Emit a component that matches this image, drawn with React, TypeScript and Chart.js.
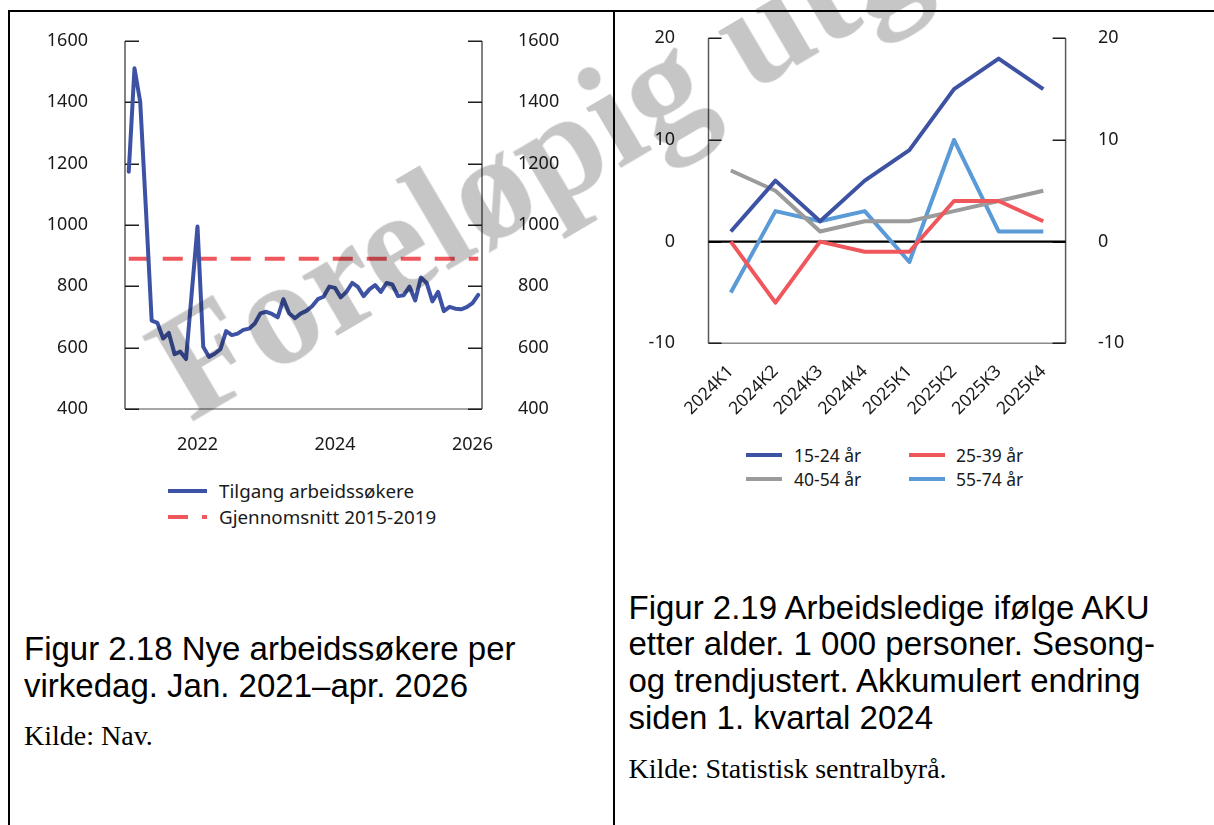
import React, { useEffect, useRef } from "react";
import { Chart, registerables } from "chart.js";

Chart.register(...registerables);

// ---------- Data: Figur 2.18 ----------
const START_YEAR = 2021;
const arbeidssokere = [
  1174, 1511, 1402, 1050, 688, 681, 630, 648, 579, 587, 563, 780,
  995, 603, 570, 580, 595, 654, 641, 646, 658, 662, 679, 712,
  717, 710, 699, 758, 712, 696, 711, 720, 735, 758, 766, 799,
  795, 764, 782, 811, 798, 768, 790, 804, 782, 811, 806, 768,
  771, 799, 754, 829, 811, 751, 782, 719, 733, 727, 725, 732,
  745, 772,
];
const gjennomsnitt = 890;
const leftXTicks = [2022, 2024, 2026];
const leftYMin = 400;
const leftYMax = 1600;
const leftYStep = 200;

// ---------- Data: Figur 2.19 ----------
const kvartaler = ["2024K1", "2024K2", "2024K3", "2024K4", "2025K1", "2025K2", "2025K3", "2025K4"];
const alder1524 = [1, 6, 2, 6, 9, 15, 18, 15];
const alder2539 = [0, -6, 0, -1, -1, 4, 4, 2];
const alder4054 = [7, 5, 1, 2, 2, 3, 4, 5];
const alder5574 = [-5, 3, 2, 3, -2, 10, 1, 1];
const rightYMin = -10;
const rightYMax = 20;
const rightYStep = 10;

// ---------- Styles ----------
const BLUE = "#3E52A4";
const RED = "#F0575C";
const GRAY = "#9B9B9B";
const LIGHTBLUE = "#5A9AD6";
const FONT = "'Noto Sans', 'Open Sans', sans-serif";
const TICK_FONT = { family: FONT, size: 18 };
const XROT_FONT = { family: FONT, size: 17.5 };
const TEXT_COLOR = "#1a1a1a";

const axisFrame = {
  id: "axisFrame",
  beforeDatasetsDraw(chart: any, _args: any, opts: any) {
    const { ctx, chartArea: a } = chart;
    const y = chart.scales.y;
    ctx.save();
    ctx.strokeStyle = "#8a8a8a";
    ctx.lineWidth = 1.5;
    ctx.beginPath();
    ctx.moveTo(a.left, a.bottom);
    ctx.lineTo(a.right, a.bottom);
    ctx.stroke();
    ctx.strokeStyle = "#5a5a5a";
    ctx.lineWidth = 1.5;
    ctx.beginPath();
    ctx.moveTo(a.left, a.top);
    ctx.lineTo(a.left, a.bottom);
    ctx.moveTo(a.right, a.top);
    ctx.lineTo(a.right, a.bottom);
    ctx.stroke();
    ctx.strokeStyle = "#1e1e1e";
    ctx.lineWidth = 1.5;
    ctx.beginPath();
    y.ticks.forEach((t: any) => {
      const py = Math.round(y.getPixelForValue(t.value)) + 0.25;
      ctx.moveTo(a.left, py);
      ctx.lineTo(a.left + opts.tickLen, py);
      ctx.moveTo(a.right, py);
      ctx.lineTo(a.right - opts.tickLen, py);
    });
    ctx.stroke();
    if (opts.zeroLine) {
      const pz = y.getPixelForValue(0);
      ctx.strokeStyle = "#000";
      ctx.lineWidth = 2.2;
      ctx.beginPath();
      ctx.moveTo(a.left, pz);
      ctx.lineTo(a.right, pz);
      ctx.stroke();
    }
    ctx.restore();
  },
};

const hiddenGrid = { display: false, drawTicks: false };
const plainNumber = (v: any) => String(v);

function fixWidth(w: number) {
  return (s: any) => {
    s.width = w;
    s.paddingTop = 0;
    s.paddingBottom = 0;
  };
}
function fixHeight(h: number) {
  return (s: any) => {
    s.height = h;
    s.paddingLeft = 0;
    s.paddingRight = 0;
  };
}

function leftConfig(): any {
  const n = arbeidssokere.length;
  return {
    type: "line",
    data: {
      datasets: [
        {
          label: "Tilgang arbeidssøkere",
          data: arbeidssokere.map((v, i) => ({ x: START_YEAR + i / 12, y: v })),
          borderColor: BLUE,
          borderWidth: 4,
          pointRadius: 0,
          tension: 0,
          borderJoinStyle: "round",
          borderCapStyle: "round",
        },
        {
          label: "Gjennomsnitt 2015-2019",
          data: [
            { x: START_YEAR, y: gjennomsnitt },
            { x: START_YEAR + (n - 1) / 12, y: gjennomsnitt },
          ],
          borderColor: RED,
          borderWidth: 4,
          borderDash: [20, 14],
          pointRadius: 0,
          tension: 0,
        },
      ],
    },
    options: {
      responsive: false,
      animation: false,
      events: [],
      layout: { padding: { top: 29, left: 0, right: 0, bottom: 0 } },
      plugins: {
        legend: { display: false },
        tooltip: { enabled: false },
        axisFrame: { tickLen: 14, zeroLine: false },
      },
      scales: {
        x: {
          type: "linear",
          min: START_YEAR - 0.0546,
          max: START_YEAR + 61.66 / 12,
          grid: hiddenGrid,
          border: { display: false },
          afterBuildTicks: (s: any) => {
            s.ticks = leftXTicks.map((v) => ({ value: v }));
          },
          afterFit: fixHeight(53),
          ticks: {
            autoSkip: false,
            maxRotation: 0,
            minRotation: 0,
            padding: 25,
            font: TICK_FONT,
            color: TEXT_COLOR,
            callback: plainNumber,
          },
        },
        y: {
          position: "left",
          min: leftYMin,
          max: leftYMax,
          grid: hiddenGrid,
          border: { display: false },
          afterFit: fixWidth(115),
          ticks: { stepSize: leftYStep, padding: 37, font: TICK_FONT, color: TEXT_COLOR, callback: plainNumber },
        },
        y2: {
          position: "right",
          min: leftYMin,
          max: leftYMax,
          grid: hiddenGrid,
          border: { display: false },
          afterFit: fixWidth(131),
          ticks: { stepSize: leftYStep, padding: 36, font: TICK_FONT, color: TEXT_COLOR, callback: plainNumber },
        },
      },
    },
    plugins: [axisFrame],
  };
}

function rightConfig(): any {
  const ds = (label: string, data: number[], color: string) => ({
    label,
    data,
    borderColor: color,
    borderWidth: 4,
    pointRadius: 0,
    tension: 0,
    borderJoinStyle: "round",
  });
  return {
    type: "line",
    data: {
      labels: kvartaler,
      datasets: [
        ds("15-24 år", alder1524, BLUE),
        ds("25-39 år", alder2539, RED),
        ds("40-54 år", alder4054, GRAY),
        ds("55-74 år", alder5574, LIGHTBLUE),
      ],
    },
    options: {
      responsive: false,
      animation: false,
      events: [],
      layout: { padding: { top: 26.3, left: 0, right: 0, bottom: 0 } },
      plugins: {
        legend: { display: false },
        tooltip: { enabled: false },
        axisFrame: { tickLen: 13, zeroLine: true },
      },
      scales: {
        x: {
          type: "category",
          offset: true,
          grid: hiddenGrid,
          border: { display: false },
          afterFit: fixHeight(98.7),
          ticks: {
            autoSkip: false,
            maxRotation: 45,
            minRotation: 45,
            padding: 18,
            font: XROT_FONT,
            color: TEXT_COLOR,
          },
        },
        y: {
          position: "left",
          min: rightYMin,
          max: rightYMax,
          grid: hiddenGrid,
          border: { display: false },
          afterFit: fixWidth(93.5),
          ticks: { stepSize: rightYStep, padding: 33.5, font: TICK_FONT, color: TEXT_COLOR, callback: plainNumber },
        },
        y2: {
          position: "right",
          min: rightYMin,
          max: rightYMax,
          grid: hiddenGrid,
          border: { display: false },
          afterFit: fixWidth(148.4),
          ticks: { stepSize: rightYStep, padding: 32.4, font: TICK_FONT, color: TEXT_COLOR, callback: plainNumber },
        },
      },
    },
    plugins: [axisFrame],
  };
}

function ChartCanvas(props: { build: () => any; left: number; top: number; width: number; height: number }) {
  const ref = useRef<HTMLCanvasElement | null>(null);
  useEffect(() => {
    if (!ref.current) return;
    const chart = new Chart(ref.current, props.build());
    return () => chart.destroy();
  }, []);
  return (
    <canvas
      ref={ref}
      width={props.width}
      height={props.height}
      style={{ position: "absolute", left: props.left, top: props.top, width: props.width, height: props.height }}
    />
  );
}

function LegendItem(props: {
  x: number;
  y: number;
  label: string;
  color: string;
  dashed?: boolean;
  sampleWidth: number;
  textX: number;
  fontSize: number;
}) {
  const { x, y, label, color, dashed, sampleWidth, textX, fontSize } = props;
  return (
    <>
      {dashed ? (
        <>
          <div style={{ position: "absolute", left: x, top: y - 2, width: 20, height: 4, background: color }} />
          <div style={{ position: "absolute", left: x + 34, top: y - 2, width: 5, height: 4, background: color }} />
        </>
      ) : (
        <div style={{ position: "absolute", left: x, top: y - 2, width: sampleWidth, height: 4, background: color }} />
      )}
      <div
        style={{
          position: "absolute",
          left: textX,
          top: y - 13,
          height: 26,
          lineHeight: "26px",
          fontFamily: FONT,
          fontSize,
          color: TEXT_COLOR,
          whiteSpace: "nowrap",
        }}
      >
        {label}
      </div>
    </>
  );
}

const captionStyle: React.CSSProperties = {
  position: "absolute",
  fontFamily: "'Liberation Sans', Arial, sans-serif",
  fontSize: 33,
  lineHeight: "36.8px",
  color: "#000",
  whiteSpace: "nowrap",
};

const sourceStyle: React.CSSProperties = {
  position: "absolute",
  fontFamily: "'Liberation Serif', 'Times New Roman', serif",
  fontSize: 28,
  lineHeight: "28px",
  color: "#000",
  whiteSpace: "nowrap",
};

export default function App() {
  return (
    <div style={{ position: "absolute", left: 0, top: 0, width: 1214, height: 825, background: "#fff", overflow: "hidden" }}>
      {/* frame */}
      <div style={{ position: "absolute", left: 8, top: 10, width: 1214, height: 2, background: "#000" }} />
      <div style={{ position: "absolute", left: 8, top: 10, width: 2, height: 820, background: "#000" }} />
      <div style={{ position: "absolute", left: 613, top: 10, width: 2, height: 820, background: "#000" }} />

      <ChartCanvas build={leftConfig} left={10} top={12} width={603} height={450} />
      <ChartCanvas build={rightConfig} left={615} top={12} width={599} height={430} />

      {/* left legend */}
      <LegendItem x={168} y={491} sampleWidth={39} textX={219} fontSize={18.8} label="Tilgang arbeidssøkere" color={BLUE} />
      <LegendItem x={168} y={517} sampleWidth={39} textX={219} fontSize={18.8} label="Gjennomsnitt 2015-2019" color={RED} dashed />

      {/* right legend */}
      <LegendItem x={746} y={455} sampleWidth={36} textX={794} fontSize={17.5} label="15-24 år" color={BLUE} />
      <LegendItem x={909} y={455} sampleWidth={36} textX={956} fontSize={17.5} label="25-39 år" color={RED} />
      <LegendItem x={746} y={479} sampleWidth={36} textX={794} fontSize={17.5} label="40-54 år" color={GRAY} />
      <LegendItem x={909} y={479} sampleWidth={36} textX={956} fontSize={17.5} label="55-74 år" color={LIGHTBLUE} />

      {/* captions */}
      <div style={{ ...captionStyle, left: 24, top: 631 }}>
        Figur 2.18 Nye arbeidssøkere per
        <br />
        virkedag. Jan. 2021–apr. 2026
      </div>
      <div style={{ ...sourceStyle, left: 24, top: 722 }}>Kilde: Nav.</div>

      <div style={{ ...captionStyle, left: 628.5, top: 589.5 }}>
        Figur 2.19 Arbeidsledige ifølge AKU
        <br />
        etter alder. 1 000 personer. Sesong-
        <br />
        og trendjustert. Akkumulert endring
        <br />
        siden 1. kvartal 2024
      </div>
      <div style={{ ...sourceStyle, left: 628.5, top: 755 }}>Kilde: Statistisk sentralbyrå.</div>

      {/* watermark */}
      <div
        style={{
          position: "absolute",
          left: 126,
          top: 314,
          transform: "rotate(-30.5deg)",
          transformOrigin: "0 0",
          fontFamily: "'Liberation Serif', 'Times New Roman', serif",
          fontWeight: 700,
          fontSize: 150,
          lineHeight: "150px",
          color: "#c6c6c6",
          mixBlendMode: "multiply",
          whiteSpace: "nowrap",
          pointerEvents: "none",
        }}
      >
        Foreløpig utgave
      </div>
    </div>
  );
}
